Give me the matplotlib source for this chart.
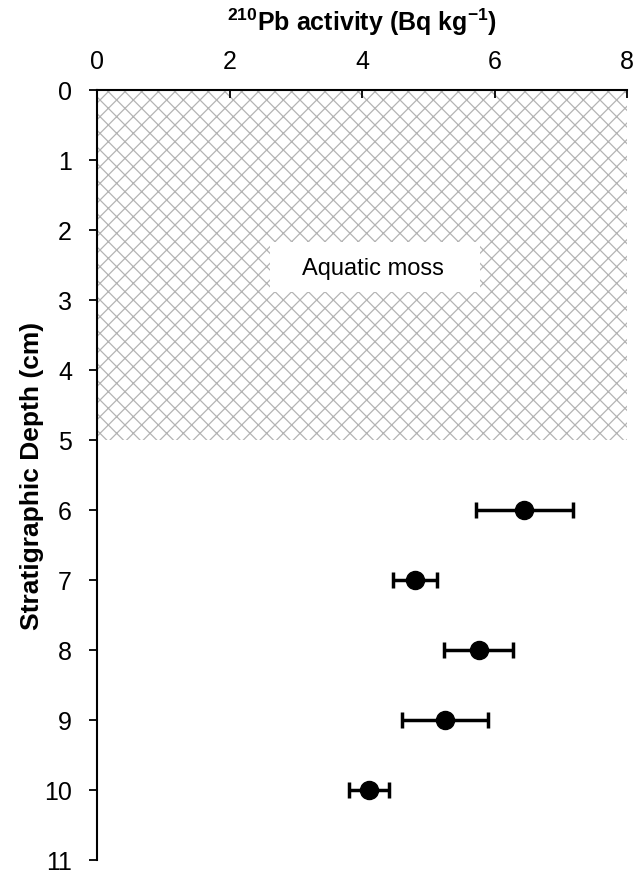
import matplotlib.pyplot as plt
from matplotlib.patches import Rectangle

plt.rcParams['font.family'] = ['Liberation Sans', 'DejaVu Sans']
plt.rcParams['mathtext.fontset'] = 'custom'
plt.rcParams['mathtext.rm'] = 'Liberation Sans'
plt.rcParams['mathtext.bf'] = 'Liberation Sans:bold'
plt.rcParams['hatch.color'] = '#b4b4b4'
plt.rcParams['hatch.linewidth'] = 0.9

# 210Pb activity by depth
depth = [6, 7, 8, 9, 10]
activity = [6.45, 4.80, 5.76, 5.25, 4.11]
activity_err = [0.73, 0.33, 0.52, 0.65, 0.30]

# moss layer at the top of the core
moss_top = 0
moss_bottom = 5
moss_label = "Aquatic moss"

x_ticks = [0, 2, 4, 6, 8]
y_ticks = list(range(0, 12))

fig = plt.figure(figsize=(6.36, 8.78), dpi=100)
ax = fig.add_axes([0.1525, 0.0194, 0.8335, 0.877])

# hatched band for the moss
ax.add_patch(Rectangle((0, moss_top), 8, moss_bottom - moss_top,
                       facecolor='white', edgecolor='#b4b4b4',
                       hatch='xx', linewidth=0, zorder=1))
# white label box inside the band
ax.add_patch(Rectangle((2.61, 2.17), 3.17, 0.72, facecolor='white',
                       edgecolor='none', zorder=2))
ax.text(4.17, 2.54, moss_label, ha='center', va='center', fontsize=17, zorder=3)

ax.errorbar(activity, depth, xerr=activity_err, fmt='o', color='black',
            markersize=13, elinewidth=2.5, capsize=6, capthick=2.5, zorder=4)

ax.set_xlim(0, 8)
ax.set_ylim(11, 0)
ax.set_xticks(x_ticks)
ax.set_yticks(y_ticks)

ax.xaxis.tick_top()
ax.xaxis.set_label_position('top')
ax.tick_params(axis='x', direction='in', length=6, width=1.3, labelsize=18, pad=12)
ax.tick_params(axis='y', direction='out', length=6, width=1.3, labelsize=18, pad=12)

for side in ['right', 'bottom']:
    ax.spines[side].set_visible(False)
for side in ['left', 'top']:
    ax.spines[side].set_linewidth(1.5)

ax.set_xlabel(r'$\mathbf{^{210}}$Pb activity (Bq kg$\mathbf{^{-1}}$)',
              fontsize=18, fontweight='bold', labelpad=14)
ax.set_ylabel('Stratigraphic Depth (cm)', fontsize=19, fontweight='bold', labelpad=0)

fig.savefig('out.png', dpi=100)
